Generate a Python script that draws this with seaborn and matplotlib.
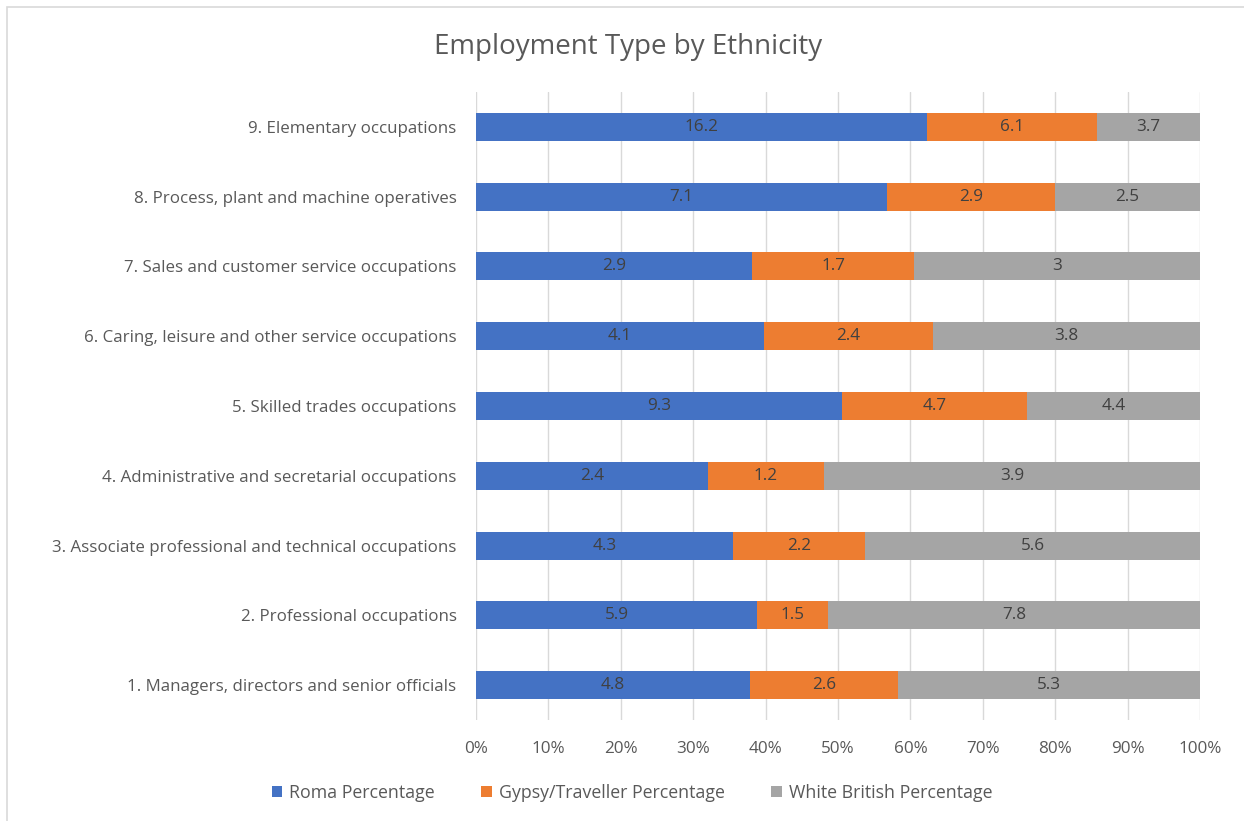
import numpy as np
import pandas as pd
import matplotlib.pyplot as plt
import seaborn as sns
from matplotlib.patches import Rectangle, Patch
from matplotlib.ticker import PercentFormatter

# ---- data (counts per occupation group, top to bottom) ----
occupations = [
    "9. Elementary occupations",
    "8. Process, plant and machine operatives",
    "7. Sales and customer service occupations",
    "6. Caring, leisure and other service occupations",
    "5. Skilled trades occupations",
    "4. Administrative and secretarial occupations",
    "3. Associate professional and technical occupations",
    "2. Professional occupations",
    "1. Managers, directors and senior officials",
]
roma = [16.2, 7.1, 2.9, 4.1, 9.3, 2.4, 4.3, 5.9, 4.8]
gypsy = [6.1, 2.9, 1.7, 2.4, 4.7, 1.2, 2.2, 1.5, 2.6]
white = [3.7, 2.5, 3, 3.8, 4.4, 3.9, 5.6, 7.8, 5.3]

series = ["Roma Percentage", "Gypsy/Traveller Percentage", "White British Percentage"]
colors = ["#4472C4", "#ED7D31", "#A5A5A5"]

df = pd.DataFrame({"occ": occupations, "roma": roma, "gypsy": gypsy, "white": white})
tot = df[["roma", "gypsy", "white"]].sum(axis=1)
df["p_roma"] = df["roma"] / tot
df["p_gypsy"] = df["gypsy"] / tot
df["p_white"] = df["white"] / tot
df["c1"] = df["p_roma"]
df["c2"] = df["p_roma"] + df["p_gypsy"]
df["c3"] = df["c2"] + df["p_white"]

# ---- style ----
sns.set_theme(style="white")
plt.rcParams["font.family"] = ["Open Sans", "DejaVu Sans"]
txt = "#595959"

fig = plt.figure(figsize=(12.44, 8.21), dpi=100)
ax = fig.add_axes([476 / 1244, 1 - 720 / 821, 724 / 1244, 628 / 821])

# stacked bars: draw cumulative totals back to front
for col, c in zip(["c3", "c2", "c1"], colors[::-1]):
    sns.barplot(data=df, x=col, y="occ", order=occupations, color=c,
                width=0.4, saturation=1, ax=ax, zorder=3, edgecolor="none")

# data labels
for i, row in df.iterrows():
    starts = [0, row["c1"], row["c2"]]
    vals = [row["roma"], row["gypsy"], row["white"]]
    widths = [row["p_roma"], row["p_gypsy"], row["p_white"]]
    for s, w, v in zip(starts, widths, vals):
        ax.text(s + w / 2, i, f"{v:g}", ha="center", va="center",
                fontsize=12.3, color="#404040", zorder=4)

ax.set_xlim(0, 1)
ax.set_ylim(8.5, -0.5)
ax.set_xticks(np.arange(0, 1.01, 0.1))
ax.xaxis.set_major_formatter(PercentFormatter(1, decimals=0))
ax.grid(axis="x", color="#D9D9D9", linewidth=1, zorder=0)
ax.grid(axis="y", visible=False)
for sp in ax.spines.values():
    sp.set_visible(False)
ax.set_xlabel("")
ax.set_ylabel("")
ax.tick_params(axis="x", length=0, pad=15, labelsize=12.3, labelcolor=txt)
ax.tick_params(axis="y", length=0, pad=14, labelsize=12.2, labelcolor=txt)

fig.text(0.5 * (1 + 7 / 1244) + 0.002, 1 - 47 / 821, "Employment Type by Ethnicity",
         ha="center", va="center", fontsize=20, color=txt)

handles = [Patch(facecolor=c, edgecolor="none", label=s) for s, c in zip(series, colors)]
fig.legend(handles=handles, loc="center", bbox_to_anchor=(0.508, 1 - 793 / 821),
           ncol=3, frameon=False, fontsize=12.8, labelcolor=txt,
           handlelength=0.6, handleheight=0.6, handletextpad=0.4, columnspacing=2.6)

# chart border
fig.patches.append(Rectangle((7 / 1244, -0.1), 1.2, 1.1 - 7 / 821,
                             transform=fig.transFigure, fill=False,
                             edgecolor="#D9D9D9", linewidth=1.2))

plt.savefig("out.png", dpi=100)
